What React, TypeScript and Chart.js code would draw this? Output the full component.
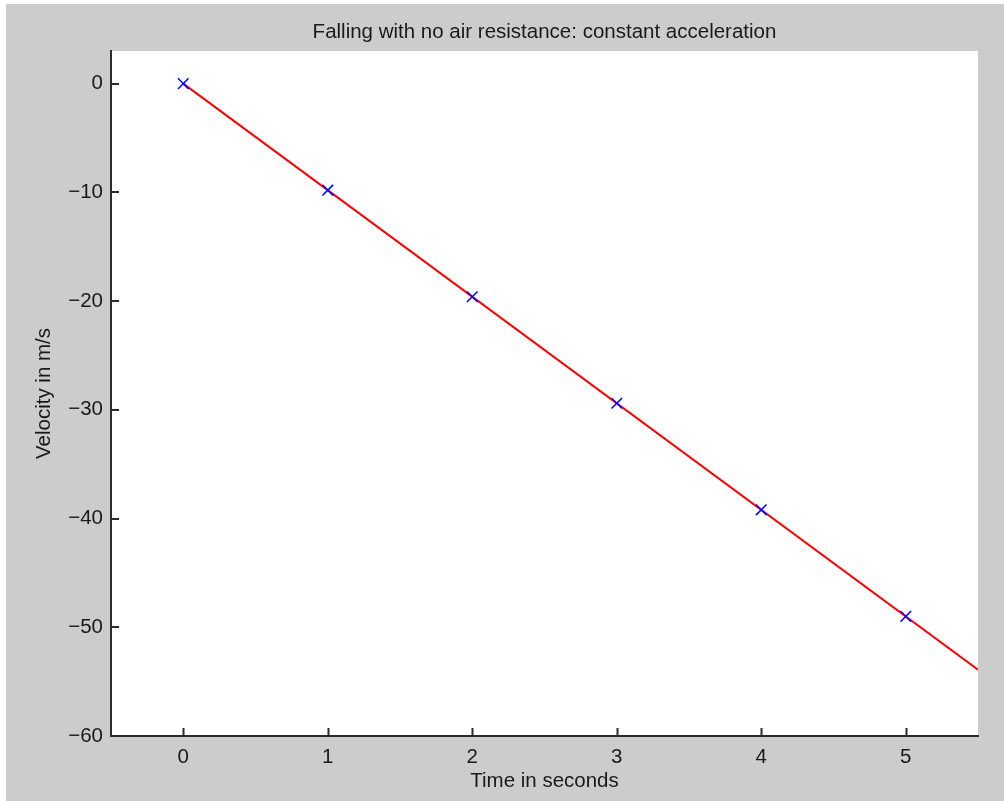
import React, { useEffect, useRef } from "react";
import { Chart, registerables } from "chart.js";

Chart.register(...registerables);

const timeSeconds = [0, 1, 2, 3, 4, 5];
const velocityMeasured = [0, -9.8, -19.6, -29.4, -39.2, -49.0];
const fitTime = [0, 5.5];
const fitVelocity = [0, -53.9];
const xTicks = [0, 1, 2, 3, 4, 5];
const yTicks = [-60, -50, -40, -30, -20, -10, 0];

const FONT = "'Liberation Sans', Arial, Helvetica, sans-serif";
const FS = 20.5;
const TEXT = "#1a1a1a";
const AXIS = "#2b2b2b";

const fmt = (v: any) => String(v).replace("-", "\u2212");

const plotBackground = {
  id: "plotBackground",
  beforeDraw(chart: any) {
    const { ctx, chartArea } = chart;
    ctx.save();
    ctx.fillStyle = "#ffffff";
    ctx.fillRect(chartArea.left, chartArea.top, chartArea.right - chartArea.left, chartArea.bottom - chartArea.top);
    ctx.restore();
  },
};

const inwardTicks = {
  id: "inwardTicks",
  afterDraw(chart: any) {
    const { ctx, chartArea } = chart;
    const xs = chart.scales.x;
    const ys = chart.scales.y;
    const len = 8;
    ctx.save();
    ctx.strokeStyle = AXIS;
    ctx.lineWidth = 2;
    ctx.beginPath();
    xs.ticks.forEach((t: any) => {
      const px = Math.round(xs.getPixelForValue(t.value)) + 0.5;
      ctx.moveTo(px, chartArea.bottom);
      ctx.lineTo(px, chartArea.bottom - len);
    });
    ys.ticks.forEach((t: any) => {
      const py = Math.round(ys.getPixelForValue(t.value));
      ctx.moveTo(chartArea.left, py);
      ctx.lineTo(chartArea.left + len, py);
    });
    ctx.stroke();
    ctx.restore();
  },
};

export default function App() {
  const canvasRef = useRef<HTMLCanvasElement | null>(null);

  useEffect(() => {
    if (!canvasRef.current) return;
    const chart = new Chart(canvasRef.current, {
      type: "scatter",
      data: {
        datasets: [
          {
            label: "fit",
            data: fitTime.map((t, i) => ({ x: t, y: fitVelocity[i] })),
            showLine: true,
            borderColor: "#ff0000",
            borderWidth: 2,
            pointRadius: 0,
            order: 2,
          },
          {
            label: "measured",
            data: timeSeconds.map((t, i) => ({ x: t, y: velocityMeasured[i] })),
            showLine: false,
            pointStyle: "crossRot",
            pointRadius: 7.5,
            borderColor: "#0000ff",
            backgroundColor: "#0000ff",
            pointBorderWidth: 1.5,
            order: 1,
          },
        ],
      },
      options: {
        responsive: false,
        animation: false,
        devicePixelRatio: 1,
        layout: { padding: { left: 0, top: 0, right: 26, bottom: 0 } },
        plugins: {
          legend: { display: false },
          tooltip: { enabled: false },
          title: {
            display: true,
            text: "Falling with no air resistance: constant acceleration",
            fullSize: false,
            color: TEXT,
            font: { family: FONT, size: FS, weight: "normal", lineHeight: 1.2 },
            padding: { top: 16.2, bottom: 6.2 },
          },
        },
        scales: {
          x: {
            type: "linear",
            min: -0.5,
            max: 5.5,
            afterBuildTicks: (s: any) => {
              s.ticks = xTicks.map((v) => ({ value: v }));
            },
            afterFit: (s: any) => {
              s.height = 65;
            },
            grid: { display: true, drawOnChartArea: false, drawTicks: false },
            border: { display: true, color: AXIS, width: 2 },
            ticks: {
              color: TEXT,
              padding: 9,
              maxRotation: 0,
              font: { family: FONT, size: FS },
              callback: fmt,
            },
            title: {
              display: true,
              text: "Time in seconds",
              color: TEXT,
              font: { family: FONT, size: FS, lineHeight: 1.2 },
              padding: { top: 0, bottom: 7.2 },
            },
          },
          y: {
            type: "linear",
            min: -60,
            max: 3,
            afterBuildTicks: (s: any) => {
              s.ticks = yTicks.map((v) => ({ value: v }));
            },
            afterFit: (s: any) => {
              s.width = 105;
            },
            grid: { display: true, drawOnChartArea: false, drawTicks: false },
            border: { display: true, color: AXIS, width: 2 },
            ticks: {
              color: TEXT,
              padding: 8,
              font: { family: FONT, size: FS },
              callback: fmt,
            },
            title: {
              display: true,
              text: "Velocity in m/s",
              color: TEXT,
              font: { family: FONT, size: FS, lineHeight: 1.2 },
              padding: { top: 26.2, bottom: 0 },
            },
          },
        },
      },
      plugins: [plotBackground, inwardTicks],
    });
    return () => chart.destroy();
  }, []);

  return (
    <div style={{ position: "fixed", left: 0, top: 0, width: 1004, height: 801, background: "#ffffff" }}>
      <div style={{ position: "absolute", left: 6, top: 4, width: 998, height: 797, background: "#cccccc" }}>
        <canvas ref={canvasRef} width={998} height={797} style={{ display: "block", width: 998, height: 797 }} />
      </div>
    </div>
  );
}
